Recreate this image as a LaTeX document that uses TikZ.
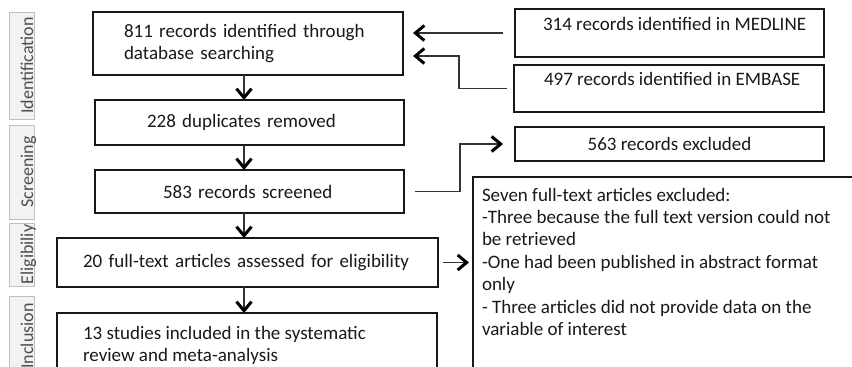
\documentclass[tikz,border=0pt]{standalone}
\usepackage{fontspec}
\setmainfont{Carlito}
\usetikzlibrary{arrows.meta}
\definecolor{boxline}{HTML}{1A1718}
\definecolor{tabfill}{HTML}{F2F2F2}
\definecolor{tabline}{HTML}{BFBFBF}
\definecolor{tabtxt}{HTML}{4D4D4D}
\definecolor{connline}{HTML}{333333}
\begin{document}
\begin{tikzpicture}[x=1pt,y=-1pt,
  every node/.style={inner sep=0pt, outer sep=0pt, text=black!90, font=\fontsize{19}{22.4}\selectfont},
  box/.style={draw=boxline, line width=1.7pt},
  tab/.style={draw=tabline, fill=tabfill, line width=0.9pt},
  tabtext/.style={rotate=90, anchor=base, text=tabtxt, font=\fontsize{18}{20}\selectfont},
  conn/.style={line width=1.1pt, draw=connline},
  arr/.style={conn, -{Straight Barb[length=9pt,width=15pt,line width=3pt,color=black]}}
]
\useasboundingbox (0,0) rectangle (852,367);
\fill[white] (0,0) rectangle (852,367);

% stage tabs
\node[tab, minimum width=25pt, minimum height=107pt] (t1) at (21.5,65.5) {};
\node[tab, minimum width=25pt, minimum height=94pt] (t2) at (21.5,172) {};
\node[tab, minimum width=25pt, minimum height=63pt] (t3) at (21.5,254.5) {};
\node[tab, minimum width=25pt, minimum height=84pt] (t4) at (21.5,338) {};
\node[tabtext] (t1t) at (33,65.5) {Identification};
\node[tabtext] (t2t) at (33,172) {Screening};
\node[tabtext] (t3t) at (33,254.5) {Eligibiliy};
\node[tabtext] (t4t) at (33,336) {Inclusion};

% main column
\node[box, minimum width=310pt, minimum height=63pt, text width=248pt, align=left] (b1) at (248,43.5)
  {811 records identified through\\database searching};
\node[box, minimum width=309pt, minimum height=45pt, text width=205pt, align=left] (b2) at (249.5,122.5) {228 duplicates removed};
\node[box, minimum width=309pt, minimum height=43pt, text width=173pt, align=left] (b3) at (249.5,191.5) {583 records screened};
\node[box, minimum width=381pt, minimum height=49pt, text width=329pt, align=left] (b4) at (247.5,262.5)
  {20 full-text articles assessed for eligibility};
\node[box, minimum width=380pt, minimum height=87pt] (b5) at (247,356.5) {};
\node[anchor=north west, align=left] (b5t) at (83,326)
  {13 studies included in the systematic\\review and meta-analysis};

% right column
\node[box, minimum width=309pt, minimum height=48pt] (med) at (669.5,33) {};
\node[anchor=base west] (medt) at (543,30) {314 records identified in MEDLINE};
\node[box, minimum width=310pt, minimum height=47pt] (emb) at (669,88.5) {};
\node[anchor=base west] (embt) at (544,85) {497 records identified in EMBASE};
\node[box, minimum width=309pt, minimum height=34pt] (exc) at (669.5,144) {563 records excluded};
\node[box, minimum width=407pt, minimum height=243pt] (xb) at (676.5,298.5) {};
\node[anchor=north west, align=left] (xbt) at (482,188)
  {Seven full-text articles excluded:\\
   -Three because the full text version could not\\
   be retrieved\\
   -One had been published in abstract format\\
   only\\
   - Three articles did not provide data on the\\
   variable of interest};

% connectors
\coordinate (ax) at (244,0);
\draw[arr] (b1.south -| ax) -- (b2.north -| ax);
\draw[arr] (b2.south -| ax) -- (b3.north -| ax);
\draw[arr] (b3.south -| ax) -- (b4.north -| ax);
\draw[arr] (b4.south -| ax) -- (b5.north -| ax);

\draw[arr, shorten <=12pt, shorten >=10pt] (med.west) -- (med.west -| b1.east);
\coordinate (j1) at (459,56);
\draw[arr, shorten <=7pt, shorten >=10pt] (emb.west) -| (j1) -- (j1 -| b1.east);
\coordinate (j2) at (460,144);
\draw[arr, shorten <=11pt, shorten >=12pt] (b3.east) -| (j2) -- (j2 -| exc.west);
\draw[arr, shorten <=5pt, shorten >=4pt] (b4.east) -- (b4.east -| xb.west);
\end{tikzpicture}
\end{document}
